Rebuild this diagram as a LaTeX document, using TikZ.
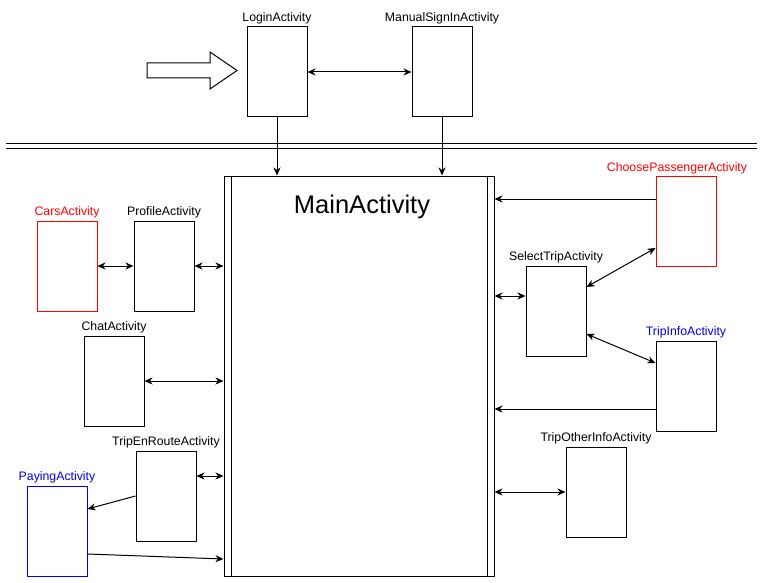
\documentclass[tikz,border=0pt]{standalone}
\usepackage{fontspec}
\setmainfont{Liberation Sans}
\usepackage{tikz}
\usepackage{xcolor}
\usetikzlibrary{positioning, arrows.meta}

\definecolor{actred}{RGB}{255,0,0}
\definecolor{actblue}{RGB}{0,0,230}

\tikzset{
    act/.style={draw, line width=1pt, minimum width=60pt, minimum height=90pt, inner sep=0pt},
    lbl/.style={font=\fontsize{12.3}{14}\selectfont, inner sep=0pt, above=1.5pt of #1},
    >={Stealth[length=8pt, width=7pt, inset=2.5pt]}
}

\begin{document}
\begin{tikzpicture}[x=1pt, y=-1pt, line width=1pt]
                \useasboundingbox (0,0) rectangle (763,583);

                % start arrow and top activities
                \draw (147,63) -- (210,63) -- (210,52) -- (237,70.5) -- (210,89) -- (210,78) -- (147,78) -- cycle;
                \node [act] (login) at (277,72) {};
                \node [act] (manual) at (442,72) {};
                \node [lbl=login] (loginL) {LoginActivity};
                \node [lbl=manual] (manualL) {ManualSignInActivity};

                \draw (6,144) -- (757,144);
                \draw (6,148.5) -- (757,148.5);

                % main activity
                \node [draw, minimum width=270pt, minimum height=400pt, inner sep=0pt] (main) at (359,376) {};
                \draw ([xshift=8pt]main.north west) -- ([xshift=8pt]main.south west);
                \draw ([xshift=-7pt]main.north east) -- ([xshift=-7pt]main.south east);
                \node [font=\fontsize{25.5}{30}\selectfont, anchor=base, inner sep=0pt] (mainL) at (362,213) {MainActivity};

                % left side
                \node [act, draw=actred] (cars) at (67,266) {};
                \node [act] (profile) at (164,266) {};
                \node [act] (chat) at (114,381) {};
                \node [act] (enroute) at (166,496) {};
                \node [act, draw=actblue] (paying) at (57,531) {};
                \node [lbl=cars, text=actred] (carsL) {CarsActivity};
                \node [lbl=profile] (profileL) {ProfileActivity};
                \node [lbl=chat] (chatL) {ChatActivity};
                \node [lbl=enroute] (enrouteL) {TripEnRouteActivity};
                \node [lbl=paying, text=actblue] (payingL) {PayingActivity};

                % right side
                \node [act, draw=actred] (choose) at (686,221.5) {};
                \node [act] (select) at (556,311) {};
                \node [act] (tripinfo) at (686,386) {};
                \node [act] (other) at (596,492) {};
                \node [lbl=choose, text=actred, xshift=-9pt] (chooseL) {ChoosePassengerActivity};
                \node [lbl=select] (selectL) {SelectTripActivity};
                \node [lbl=tripinfo, text=actblue] (tripinfoL) {TripInfoActivity};
                \node [lbl=other] (otherL) {TripOtherInfoActivity};

                \draw[<->] (login) -- (manual);
                \draw[->] (login.south) -- (login.south |- main.north);
                \draw[->] (manual.south) -- (manual.south |- main.north);

                \draw[<->] (cars) -- (profile);
                \draw[<->] (profile.east) -- (profile.east -| main.west);
                \draw[<->] (chat.east) -- (chat.east -| main.west);
                \draw[<->] (enroute.east |- 0,476) -- (main.west |- 0,476);
                \draw[->] (enroute.west) -- (paying.east |- 0,509);
                \draw[->] (paying.east |- 0,554) -- (main.west |- 0,559);

                \draw[->] (choose.west |- 0,199) -- (main.east |- 0,199);
                \draw[<->] (main.east |- 0,296) -- (select.west |- 0,296);
                \draw[<->] (select.east |- 0,287) -- (choose.west |- 0,248);
                \draw[<->] (select.east |- 0,334) -- (tripinfo.west |- 0,363);
                \draw[->] (tripinfo.west |- 0,409) -- (main.east |- 0,409);
                \draw[<->] (main.east |- 0,492) -- (other.west);
            \end{tikzpicture}
\end{document}
